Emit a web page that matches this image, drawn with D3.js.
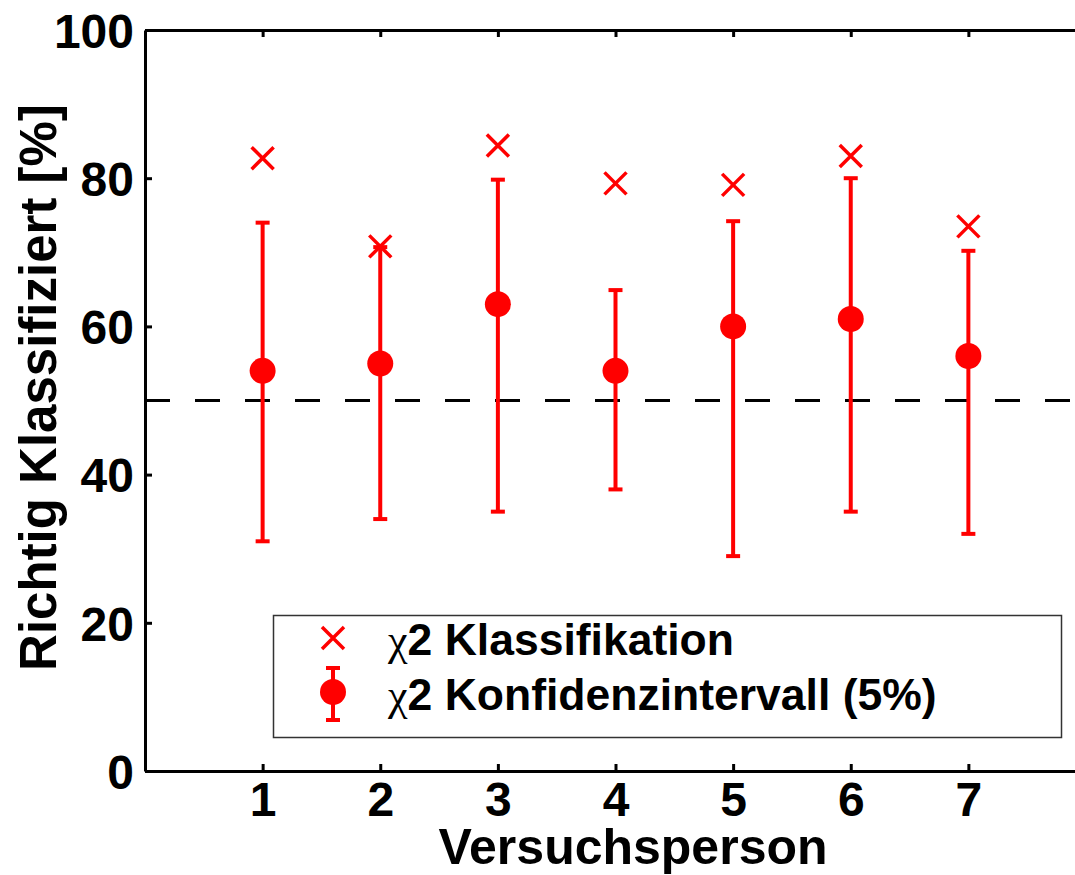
<!DOCTYPE html>
<html>
<head>
<meta charset="utf-8">
<script src="https://cdn.jsdelivr.net/npm/d3@7"></script>
<style>
  html, body { margin: 0; padding: 0; background: #fff; }
  svg { display: block; }
</style>
</head>
<body>
<svg id="chart" width="1075" height="875"></svg>
<script>
const persons = [1, 2, 3, 4, 5, 6, 7];
const klassifikation = [82.7, 70.8, 84.4, 79.3, 79.1, 83.0, 73.5];
const konfMean = [54, 55, 63, 54, 60, 61, 56];
const konfUpper = [74.0, 70.7, 79.8, 64.9, 74.2, 80.0, 70.2];
const konfLower = [31.0, 34.0, 35.0, 38.0, 29.0, 35.0, 32.0];
const yTicks = [0, 20, 40, 60, 80, 100];
const xTicks = [1, 2, 3, 4, 5, 6, 7];
const chanceLevel = 50;
const legendLabels = ["Klassifikation", "Konfidenzintervall (5%)"];

const svg = d3.select("#chart");
const red = "#ff0000";
const font = "'Liberation Sans', Arial, Helvetica, sans-serif";

const x = d3.scaleLinear().domain([0, 8]).range([145, 1086]);
const y = d3.scaleLinear().domain([0, 100]).range([771, 30]);

// dashed chance line
svg.append("line")
  .attr("x1", x(0)).attr("x2", x(8))
  .attr("y1", y(chanceLevel)).attr("y2", y(chanceLevel))
  .attr("stroke", "#000").attr("stroke-width", 3)
  .attr("stroke-dasharray", "25,25");

// axes
function styleAxis(g, fs) {
  g.selectAll("path.domain").attr("stroke", "#000").attr("stroke-width", 3);
  g.selectAll(".tick line").attr("stroke", "#000").attr("stroke-width", 3);
  g.selectAll(".tick text")
    .attr("font-family", font).attr("font-weight", "bold")
    .attr("font-size", fs || 48).attr("fill", "#000");
}

const yAxis = svg.append("g").attr("transform", `translate(${x(0)},0)`)
  .call(d3.axisLeft(y).tickValues(yTicks).tickSizeInner(-7).tickSizeOuter(0).tickPadding(11));
styleAxis(yAxis);
yAxis.selectAll(".tick text").attr("dy", "0.36em");

const xAxis = svg.append("g").attr("transform", `translate(0,${y(0)})`)
  .call(d3.axisBottom(x).tickValues(xTicks).tickSizeInner(-7).tickSizeOuter(0).tickPadding(10));
styleAxis(xAxis);
xAxis.selectAll(".tick text").attr("dy", "0.72em");

const topAxis = svg.append("g").attr("transform", `translate(0,${y(100)})`)
  .call(d3.axisTop(x).tickValues(xTicks).tickSizeInner(-7).tickSizeOuter(0).tickFormat(""));
styleAxis(topAxis);

const rightAxis = svg.append("g").attr("transform", `translate(${x(8)},0)`)
  .call(d3.axisRight(y).tickValues(yTicks).tickSizeInner(-7).tickSizeOuter(0).tickFormat(""));
styleAxis(rightAxis);

// axis titles
svg.append("text")
  .attr("x", 633).attr("y", 864)
  .attr("text-anchor", "middle")
  .attr("font-family", font).attr("font-weight", "bold").attr("font-size", 50)
  .text("Versuchsperson");

svg.append("text")
  .attr("transform", `translate(56,${(105 + 670) / 2}) rotate(-90)`)
  .attr("text-anchor", "middle")
  .attr("font-family", font).attr("font-weight", "bold").attr("font-size", 51)
  .text("Richtig Klassifiziert [%]");

// error bars
const capHalf = 7;
const eb = svg.append("g").attr("stroke", red).attr("stroke-width", 4);
persons.forEach((p, i) => {
  eb.append("line").attr("x1", x(p)).attr("x2", x(p))
    .attr("y1", y(konfLower[i])).attr("y2", y(konfUpper[i]));
  eb.append("line").attr("x1", x(p) - capHalf).attr("x2", x(p) + capHalf)
    .attr("y1", y(konfUpper[i])).attr("y2", y(konfUpper[i]));
  eb.append("line").attr("x1", x(p) - capHalf).attr("x2", x(p) + capHalf)
    .attr("y1", y(konfLower[i])).attr("y2", y(konfLower[i]));
});

svg.append("g").selectAll("circle").data(persons).join("circle")
  .attr("cx", d => x(d)).attr("cy", (d, i) => y(konfMean[i]))
  .attr("r", 13).attr("fill", red);

// crosses
const cs = 11;
const cg = svg.append("g").attr("stroke", red).attr("stroke-width", 3.5);
persons.forEach((p, i) => {
  const cx = x(p), cy = y(klassifikation[i]);
  cg.append("path").attr("d", `M${cx - cs},${cy - cs}L${cx + cs},${cy + cs}M${cx - cs},${cy + cs}L${cx + cs},${cy - cs}`);
});

// legend
const lg = svg.append("g");
lg.append("rect").attr("x", 273.5).attr("y", 615.5).attr("width", 788).attr("height", 122)
  .attr("fill", "#fff").attr("stroke", "#333").attr("stroke-width", 1.5);

const lx = 333;
lg.append("path")
  .attr("d", `M${lx - 11},${638 - 11}L${lx + 11},${638 + 11}M${lx - 11},${638 + 11}L${lx + 11},${638 - 11}`)
  .attr("stroke", red).attr("stroke-width", 3.5);
lg.append("line").attr("x1", lx).attr("x2", lx).attr("y1", 668).attr("y2", 720)
  .attr("stroke", red).attr("stroke-width", 4);
lg.append("line").attr("x1", lx - capHalf).attr("x2", lx + capHalf).attr("y1", 668).attr("y2", 668)
  .attr("stroke", red).attr("stroke-width", 4);
lg.append("line").attr("x1", lx - capHalf).attr("x2", lx + capHalf).attr("y1", 720).attr("y2", 720)
  .attr("stroke", red).attr("stroke-width", 4);
lg.append("circle").attr("cx", lx).attr("cy", 692).attr("r", 13).attr("fill", red);

[655, 710].forEach((by, i) => {
  const t = lg.append("text").attr("x", 388).attr("y", by)
    .attr("font-family", font).attr("font-size", 44.5).attr("fill", "#000");
  t.append("tspan").attr("font-family", "'Liberation Serif', 'DejaVu Serif', serif")
    .attr("font-size", 44).text("χ");
  t.append("tspan").attr("font-weight", "bold").text("2 " + legendLabels[i]);
});
</script>
</body>
</html>
